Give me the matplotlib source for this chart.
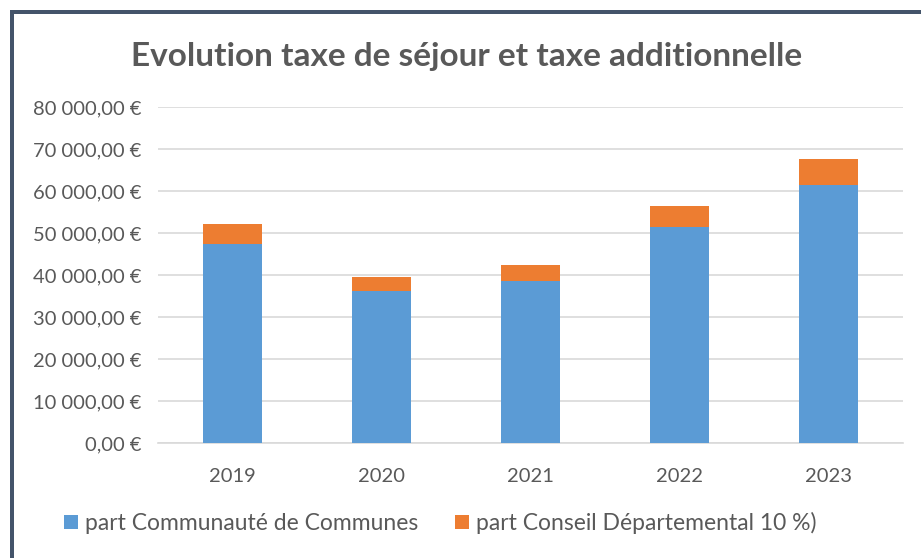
import matplotlib.pyplot as plt
from matplotlib.patches import Rectangle
from matplotlib.ticker import FuncFormatter

plt.rcParams['font.family'] = ['Lato', 'DejaVu Sans']

years = ["2019", "2020", "2021", "2022", "2023"]
part_cc = [47400, 36100, 38500, 51400, 61450]
part_cd = [4850, 3500, 3850, 5150, 6150]

BLUE = "#5B9BD5"
ORANGE = "#ED7D31"
TEXT = "#595959"
GRID = "#D9D9D9"


def euro(v, pos=None):
    s = f"{v:,.2f}".replace(",", "\u202f").replace(".", ",")
    return s + "\u202f€"


fig = plt.figure(figsize=(9.21, 5.58), dpi=100)
ax = fig.add_axes([0.1716, 0.206, 0.809, 0.602])

x = range(len(years))
ax.bar(x, part_cc, width=0.4, color=BLUE, label="part Communauté de Communes", zorder=3)
ax.bar(x, part_cd, width=0.4, bottom=part_cc, color=ORANGE,
       label="part Conseil Départemental 10 %)", zorder=3)

ax.set_ylim(0, 80000)
ax.set_xlim(-0.5, len(years) - 0.5)
ax.set_yticks(range(0, 80001, 10000))
ax.yaxis.set_major_formatter(FuncFormatter(euro))
ax.set_xticks(list(x))
ax.set_xticklabels(years)
ax.tick_params(axis="both", length=0, labelsize=14.5, colors=TEXT)
ax.tick_params(axis="x", pad=18)
ax.tick_params(axis="y", pad=12)
ax.grid(axis="y", color=GRID, lw=1.2, zorder=0)
for side in ["top", "right", "left"]:
    ax.spines[side].set_visible(False)
ax.spines["bottom"].set_color(GRID)
ax.spines["bottom"].set_linewidth(1.2)

fig.text(0.507, 0.898, "Evolution taxe de séjour et taxe additionnelle",
         ha="center", va="center", fontsize=24, fontweight="bold", color=TEXT)

fig.legend(loc="center", bbox_to_anchor=(0.478, 0.063), ncol=2, frameon=False,
           fontsize=16.5, labelcolor=TEXT, handlelength=0.6, handleheight=0.6,
           handletextpad=0.3, columnspacing=1.6)

# frame around the chart (top and left edges visible)
fig.add_artist(Rectangle((10 / 921, 1 - 14 / 558), 911 / 921, 4 / 558,
                         transform=fig.transFigure, color="#44546A", lw=0))
fig.add_artist(Rectangle((10 / 921, 0), 4 / 921, 1 - 10 / 558,
                         transform=fig.transFigure, color="#44546A", lw=0))

fig.savefig("out.png", dpi=100)
